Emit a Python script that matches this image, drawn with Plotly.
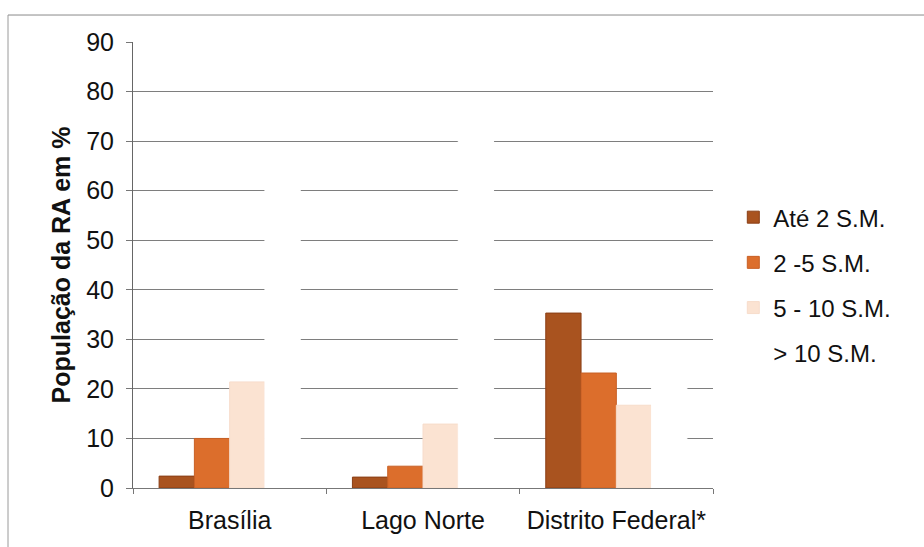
import plotly.graph_objects as go

# Income distribution of the population by administrative region (RA)
categories = ["Brasília", "Lago Norte", "Distrito Federal*"]
series_names = ["Até 2 S.M.", "2 -5 S.M.", "5 - 10 S.M.", "> 10 S.M."]
ate_2 = [2.4, 2.2, 35.3]
de_2_a_5 = [10.0, 4.4, 23.2]
de_5_a_10 = [21.4, 12.9, 16.7]
acima_10 = [66.0, 78.0, 25.0]
y_ticks = [0, 10, 20, 30, 40, 50, 60, 70, 80, 90]

series_values = [ate_2, de_2_a_5, de_5_a_10, acima_10]
colors = ["#A9531F", "#DC6E2C", "#FBE3D2", "#FFFFFF"]
edges = ["#8A3F16", "#C86025", "#F7DCCB", "#FFFFFF"]

fig = go.Figure()
for i, (name, vals) in enumerate(zip(series_names, series_values)):
    fig.add_trace(go.Bar(
        x=categories, y=vals, name=name,
        marker=dict(color=colors[i], line=dict(color=edges[i], width=1)),
        legendgroup=f"g{i}",
    ))

fig.update_layout(
    width=924, height=547,
    paper_bgcolor="white", plot_bgcolor="white",
    barmode="group", bargap=0.27, bargroupgap=0,
    margin=dict(l=133, r=211, t=42, b=59),
    font=dict(family="Liberation Sans, Arial, sans-serif", color="#111111"),
    legend=dict(
        x=1.035, y=0.455, xanchor="left", yanchor="middle",
        font=dict(size=24, color="#111111"),
        tracegroupgap=11, itemwidth=30, bgcolor="rgba(0,0,0,0)",
    ),
    xaxis=dict(
        showline=True, linecolor="#777777", linewidth=1,
        ticks="outside", tickson="boundaries", ticklen=5, tickcolor="#777777",
        tickfont=dict(size=25), showgrid=False, ticklabelstandoff=10,
    ),
    yaxis=dict(
        range=[0, 90], tickvals=y_ticks,
        showline=True, linecolor="#666666", linewidth=1,
        ticks="outside", ticklen=6, tickcolor="#777777",
        showgrid=True, gridcolor="#7E7E7E", gridwidth=1,
        tickfont=dict(size=25), ticklabelstandoff=7,
        title=dict(text="<b>População da RA em %</b>", font=dict(size=25), standoff=8),
        zeroline=False,
    ),
    shapes=[
        dict(type="line", xref="paper", yref="paper", x0=-0.2155, x1=1.4, y0=1.0605, y1=1.0605,
             line=dict(color="#8A8A8A", width=1)),
        dict(type="line", xref="paper", yref="paper", x0=-0.2155, x1=-0.2155, y0=-0.14, y1=1.0605,
             line=dict(color="#9A9A9A", width=1)),
    ],
)

fig.write_html("out.html")
